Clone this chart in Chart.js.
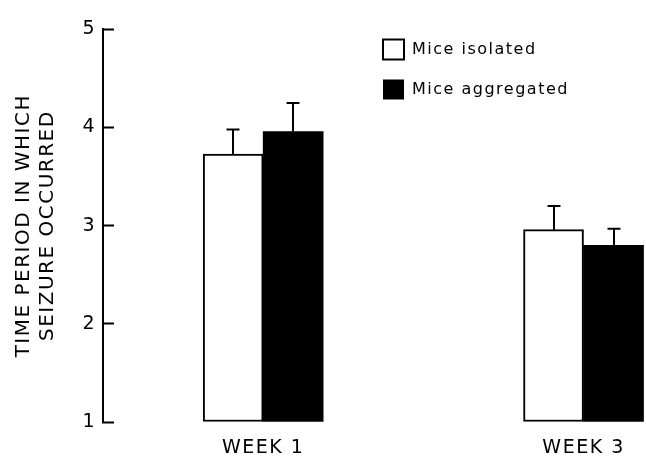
<!DOCTYPE html>
<html>
<head>
<meta charset="utf-8">
<script src="https://cdn.jsdelivr.net/npm/chart.js@4/dist/chart.umd.min.js"></script>
<style>
  html, body { margin: 0; padding: 0; background: #fff; }
  #wrap { width: 646px; height: 457px; }
</style>
</head>
<body>
<div id="wrap"><canvas id="c" width="646" height="457"></canvas></div>
<script>
// ---- data ----
const categories = ['WEEK 1', 'WEEK 3'];
const isolated = [3.73, 2.96];
const isolatedErr = [0.25, 0.24];
const aggregated = [3.96, 2.80];
const aggregatedErr = [0.29, 0.17];
const yTicks = [1, 2, 3, 4, 5];
const yTitle = ['TIME PERIOD IN WHICH', 'SEIZURE OCCURRED'];
const seriesLabels = ['Mice isolated', 'Mice aggregated'];

// categories sit at odd positions on a numeric x scale
const catPos = categories.map((c, i) => 2 * i + 1);
const toPoints = vals => vals.map((v, i) => ({ x: catPos[i], y: v }));

const FONT = '"DejaVu Sans", sans-serif';

const spacingPlugin = {
  id: 'spacing',
  beforeUpdate(chart) { chart.ctx.letterSpacing = '1.5px'; },
  beforeDraw(chart) { chart.ctx.letterSpacing = '1.5px'; }
};

const legendPlace = {
  id: 'legendPlace',
  afterLayout(chart) {
    if (chart.legend) {
      chart.legend.left = 363;
      chart.legend.top = chart.chartArea.top - 10;
    }
  }
};

const errorBars = {
  id: 'errorBars',
  afterDatasetsDraw(chart) {
    const ctx = chart.ctx;
    const ys = chart.scales.y;
    const errs = [isolatedErr, aggregatedErr];
    const vals = [isolated, aggregated];
    ctx.save();
    ctx.strokeStyle = '#000';
    ctx.lineWidth = 2;
    chart.data.datasets.forEach((ds, d) => {
      const meta = chart.getDatasetMeta(d);
      meta.data.forEach((el, i) => {
        const x = Math.round(el.x);
        const yTop = el.y;
        const yErr = ys.getPixelForValue(vals[d][i] + errs[d][i]);
        ctx.beginPath();
        ctx.moveTo(x, yTop);
        ctx.lineTo(x, yErr);
        ctx.moveTo(x - 6.5, yErr);
        ctx.lineTo(x + 6.5, yErr);
        ctx.stroke();
      });
    });
    ctx.restore();
  }
};

new Chart(document.getElementById('c'), {
  type: 'bar',
  data: {
    datasets: [
      {
        label: seriesLabels[0],
        data: toPoints(isolated),
        backgroundColor: '#fff',
        borderColor: '#000',
        borderWidth: 2,
        borderSkipped: false,
        base: yTicks[0],
        barThickness: 60
      },
      {
        label: seriesLabels[1],
        data: toPoints(aggregated),
        backgroundColor: '#000',
        borderColor: '#000',
        borderWidth: 0,
        borderSkipped: false,
        base: yTicks[0],
        barThickness: 60
      }
    ]
  },
  options: {
    responsive: false,
    devicePixelRatio: 1,
    animation: false,
    layout: { padding: { top: 19, left: 0, right: 0, bottom: 0 } },
    plugins: {
      tooltip: { enabled: false },
      legend: {
        position: 'chartArea',
        align: 'start',
        labels: {
          boxWidth: 21,
          boxHeight: 20,
          padding: 20,
          color: '#000',
          font: { family: FONT, size: 16 }
        }
      }
    },
    scales: {
      x: {
        type: 'linear',
        min: 0,
        max: 3.39,
        offset: false,
        grid: { display: false, drawTicks: false },
        border: { display: false },
        afterBuildTicks(scale) { scale.ticks = catPos.map(v => ({ value: v })); },
        afterFit(scale) { scale.height = 35; },
        ticks: {
          autoSkip: false,
          maxRotation: 0,
          padding: 15,
          color: '#000',
          font: { family: FONT, size: 19 },
          callback(v) { const i = catPos.indexOf(v); return i >= 0 ? categories[i] : ''; }
        }
      },
      y: {
        min: 1,
        max: 5,
        afterBuildTicks(scale) { scale.ticks = yTicks.map(v => ({ value: v })); },
        afterFit(scale) { scale.width = 103; },
        grid: {
          drawOnChartArea: false,
          drawTicks: true,
          tickLength: -11,
          tickWidth: 2,
          color: '#000'
        },
        border: { display: true, color: '#000', width: 2 },
        ticks: {
          padding: 18,
          color: '#000',
          font: { family: FONT, size: 19 }
        },
        title: {
          display: true,
          text: yTitle,
          color: '#000',
          padding: { top: 12, bottom: 0 },
          font: { family: FONT, size: 20, lineHeight: 1.2 }
        }
      }
    }
  },
  plugins: [spacingPlugin, legendPlace, errorBars]
});
</script>
</body>
</html>
